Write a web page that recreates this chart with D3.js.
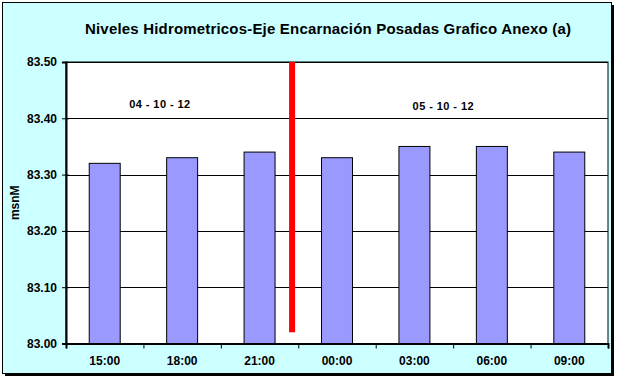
<!DOCTYPE html>
<html><head><meta charset="utf-8">
<script src="https://cdn.jsdelivr.net/npm/d3@7"></script>
<style>body{margin:0;background:#fff}svg{display:block}</style>
</head><body>
<script>
const title = "Niveles Hidrometricos-Eje Encarnación Posadas Grafico Anexo (a)";
const categories = ["15:00","18:00","21:00","00:00","03:00","06:00","09:00"];
const values = [83.32, 83.33, 83.34, 83.33, 83.35, 83.35, 83.34];
const yTicks = [83.00, 83.10, 83.20, 83.30, 83.40, 83.50];
const yLabel = "msnM";
const dateLabels = [{text:"04 - 10 - 12", pos:1.21, y:83.418}, {text:"05 - 10 - 12", pos:4.87, y:83.414}];
const dividerPos = 2.92;            // in category units
const dividerRange = [83.02, 83.50];

const W = 620, H = 383;
const m = {left:66, top:62, right:608, bottom:343.5};

const svg = d3.select("body").append("svg").attr("width", W).attr("height", H);

// frame with shadow
svg.append("rect").attr("x",5).attr("y",5).attr("width",609).attr("height",371).attr("fill","#000");
svg.append("rect").attr("x",2.5).attr("y",2.5).attr("width",609).attr("height",371)
  .attr("fill","#CCFFFF").attr("stroke","#000").attr("stroke-width",1);

// title
svg.append("text").attr("x",328).attr("y",34).attr("text-anchor","middle")
  .attr("font-family","Liberation Sans, Arial, sans-serif").attr("font-weight","bold")
  .attr("font-size",15).attr("textLength",486).attr("lengthAdjust","spacing")
  .attr("fill","#000").text(title);

const x = d3.scaleBand().domain(categories).range([m.left, m.right]).paddingInner(0).paddingOuter(0);
const xl = d3.scaleLinear().domain([0, categories.length]).range([m.left, m.right]);
const y = d3.scaleLinear().domain([83.0, 83.5]).range([m.bottom, m.top]);

// plot area
svg.append("rect").attr("x",m.left).attr("y",m.top).attr("width",m.right-m.left).attr("height",m.bottom-m.top)
  .attr("fill","#fff").attr("stroke","#000").attr("stroke-width",1);

// gridlines
svg.append("g").selectAll("line").data(yTicks.slice(1)).join("line")
  .attr("x1",m.left).attr("x2",m.right).attr("y1",d=>Math.round(y(d))+0.5).attr("y2",d=>Math.round(y(d))+0.5)
  .attr("stroke","#000").attr("stroke-width",1);

// bars
const bw = x.bandwidth()/2.5;
svg.append("g").selectAll("rect").data(values).join("rect")
  .attr("x",(d,i)=>x(categories[i]) + (x.bandwidth()-bw)/2)
  .attr("y",d=>y(d)).attr("width",bw).attr("height",d=>y(83.0)-y(d))
  .attr("fill","#9999FF").attr("stroke","#000").attr("stroke-width",1);

// divider line
svg.append("line").attr("x1",xl(dividerPos)).attr("x2",xl(dividerPos))
  .attr("y1",y(dividerRange[0])).attr("y2",y(dividerRange[1]))
  .attr("stroke","#FF0000").attr("stroke-width",6);

// axes
const fontF = "Liberation Sans, Arial, sans-serif";
const yAxis = d3.axisLeft(y).tickValues(yTicks).tickFormat(d3.format(".2f")).tickSize(4).tickPadding(5);
const gy = svg.append("g").attr("transform",`translate(${m.left},0)`).call(yAxis);
gy.select(".domain").attr("stroke","#000").attr("stroke-width",2);
gy.selectAll(".tick line").attr("stroke","#000").attr("x2",-4).attr("x1",3);
gy.selectAll("text").attr("font-family",fontF).attr("font-weight","bold").attr("font-size",12).attr("fill","#000");

const xAxis = d3.axisBottom(xl).tickValues(d3.range(categories.length+1)).tickFormat("").tickSize(5);
const gx = svg.append("g").attr("transform",`translate(0,${m.bottom})`).call(xAxis);
gx.select(".domain").attr("stroke","#000").attr("stroke-width",2);
gx.selectAll(".tick line").attr("stroke","#000");

svg.append("g").selectAll("text").data(categories).join("text")
  .attr("x",d=>x(d)+x.bandwidth()/2).attr("y",365).attr("text-anchor","middle")
  .attr("font-family",fontF).attr("font-weight","bold").attr("font-size",12).attr("fill","#000").text(d=>d);

// y label
svg.append("text").attr("transform",`translate(19,${(m.top+m.bottom)/2}) rotate(-90)`)
  .attr("text-anchor","middle").attr("font-family",fontF).attr("font-weight","bold")
  .attr("font-size",12).attr("fill","#000").text(yLabel);

// date labels
svg.append("g").selectAll("text").data(dateLabels).join("text")
  .attr("x",d=>xl(d.pos)).attr("y",d=>y(d.y)).attr("text-anchor","middle")
  .attr("font-family",fontF).attr("font-weight","bold")
  .attr("font-size",11).attr("textLength",61).attr("lengthAdjust","spacing")
  .attr("fill","#000").text(d=>d.text);
</script>
</body></html>
